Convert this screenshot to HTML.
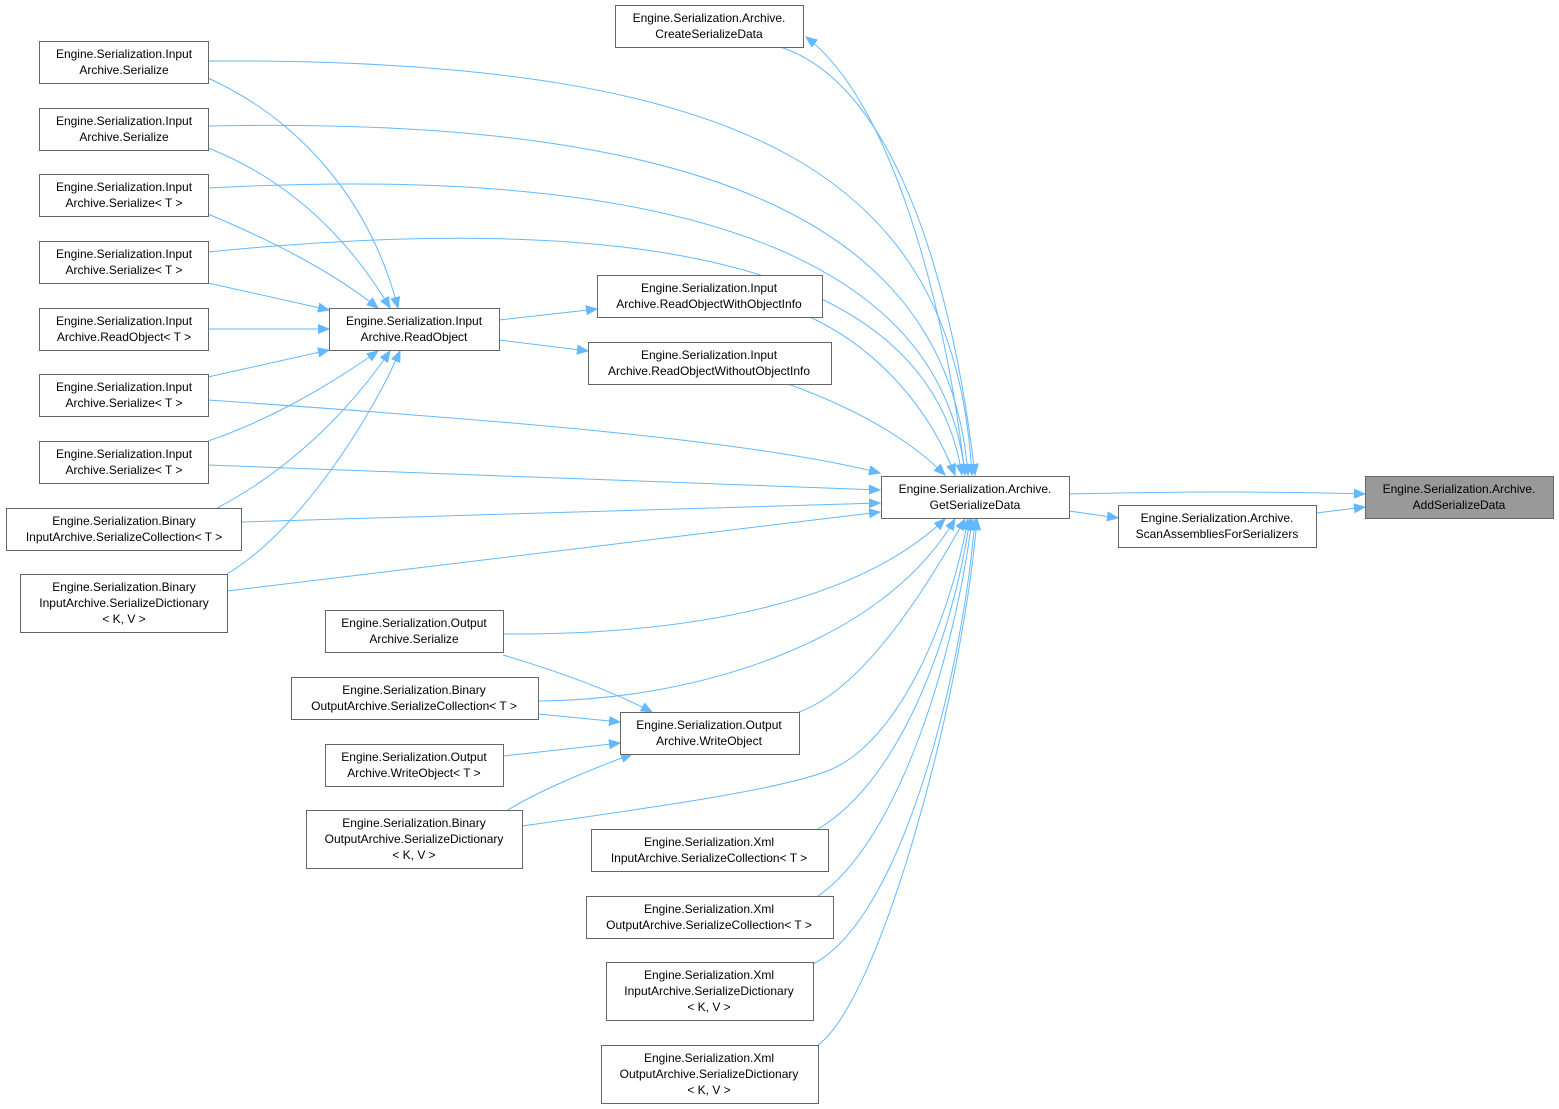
<!DOCTYPE html>
<html><head><meta charset="utf-8"><style>
html,body{margin:0;padding:0;background:#fff;}
svg{display:block;}
text{font-family:"Liberation Sans",sans-serif;font-size:12px;fill:#000;text-anchor:middle;}
.n{fill:#fff;stroke:#666;stroke-width:1;}
.e{fill:none;stroke:#63b8ff;stroke-width:1;marker-end:url(#a);}
</style></head><body>
<svg width="1559" height="1109" viewBox="0 0 1559 1109" xmlns="http://www.w3.org/2000/svg">
<defs><marker id="a" markerUnits="userSpaceOnUse" markerWidth="12" markerHeight="10" refX="11" refY="5" orient="auto"><path d="M0,0.5 L11,5 L0,9.5 z" fill="#63b8ff" stroke="#63b8ff"/></marker></defs>

<!-- edges to GetSerializeData -->
<path class="e" d="M208,61 C760,58 955,180 972,475"/>
<path class="e" d="M208,126 C740,115 950,240 968,475"/>
<path class="e" d="M208,188 C730,160 945,280 965,475"/>
<path class="e" d="M208,252 C730,200 935,300 962,475"/>
<path class="e" d="M208,400 C500,420 750,440 880,473"/>
<path class="e" d="M208,465 L880,490"/>
<path class="e" d="M241,522 L880,503"/>
<path class="e" d="M227,591 L880,512"/>
<path class="e" d="M810,317 C880,350 930,410 955,475"/>
<path class="e" d="M788,384 C860,410 910,440 945,475"/>
<path class="e" d="M503,634 C700,635 860,600 945,519"/>
<path class="e" d="M538,701 C700,700 885,640 955,519"/>
<path class="e" d="M799,712 C860,690 920,600 965,519"/>
<path class="e" d="M522,826 C650,808 780,790 830,770 C900,740 950,620 968,519"/>
<path class="e" d="M818,829 C900,780 952,640 970,519"/>
<path class="e" d="M818,896 C900,840 956,650 972,519"/>
<path class="e" d="M813,964 C900,920 962,680 975,519"/>
<path class="e" d="M818,1045 C880,1000 962,700 977,519"/>
<path class="e" d="M780,47 C900,85 955,300 975,475"/>
<path class="e" d="M965,475 C945,300 890,100 806,37"/>
<!-- edges to ReadObject -->
<path class="e" d="M208,78 C300,120 370,200 398,308"/>
<path class="e" d="M208,148 C290,180 350,240 390,308"/>
<path class="e" d="M208,214 C270,240 330,270 378,308"/>
<path class="e" d="M208,283 L329,310"/>
<path class="e" d="M208,329 L329,329"/>
<path class="e" d="M208,377 L329,350"/>
<path class="e" d="M208,441 C270,420 330,385 378,351"/>
<path class="e" d="M217,508 C290,470 350,410 390,351"/>
<path class="e" d="M227,574 C300,530 370,420 400,351"/>
<path class="e" d="M499,320 L597,309"/>
<path class="e" d="M499,340 L588,351"/>
<!-- edges to WriteObject -->
<path class="e" d="M503,655 C560,672 610,690 652,712"/>
<path class="e" d="M538,714 L620,722"/>
<path class="e" d="M503,756 L620,743"/>
<path class="e" d="M508,810 C540,790 590,770 632,754"/>
<!-- right side -->
<path class="e" d="M1069,511 L1118,518"/>
<path class="e" d="M1316,513 L1365,507"/>
<path class="e" d="M1069,494 C1200,491 1300,492 1365,494"/>

<!-- nodes -->
<rect x="1365.5" y="476.5" width="188" height="42" fill="#999" stroke="#666"/>
<text x="1459" y="493">Engine.Serialization.Archive.</text><text x="1459" y="509">AddSerializeData</text>

<rect class="n" x="881.5" y="476.5" width="188" height="42"/>
<text x="975" y="493">Engine.Serialization.Archive.</text><text x="975" y="509">GetSerializeData</text>

<rect class="n" x="1118.5" y="505.5" width="198" height="42"/>
<text x="1217" y="522">Engine.Serialization.Archive.</text><text x="1217" y="538">ScanAssembliesForSerializers</text>

<rect class="n" x="615.5" y="5.5" width="188" height="42"/>
<text x="709" y="22">Engine.Serialization.Archive.</text><text x="709" y="38">CreateSerializeData</text>

<rect class="n" x="39.5" y="41.5" width="169" height="42"/>
<text x="124" y="58">Engine.Serialization.Input</text><text x="124" y="74">Archive.Serialize</text>
<rect class="n" x="39.5" y="108.5" width="169" height="42"/>
<text x="124" y="125">Engine.Serialization.Input</text><text x="124" y="141">Archive.Serialize</text>
<rect class="n" x="39.5" y="174.5" width="169" height="42"/>
<text x="124" y="191">Engine.Serialization.Input</text><text x="124" y="207">Archive.Serialize&lt; T &gt;</text>
<rect class="n" x="39.5" y="241.5" width="169" height="42"/>
<text x="124" y="258">Engine.Serialization.Input</text><text x="124" y="274">Archive.Serialize&lt; T &gt;</text>
<rect class="n" x="39.5" y="308.5" width="169" height="42"/>
<text x="124" y="325">Engine.Serialization.Input</text><text x="124" y="341">Archive.ReadObject&lt; T &gt;</text>
<rect class="n" x="39.5" y="374.5" width="169" height="42"/>
<text x="124" y="391">Engine.Serialization.Input</text><text x="124" y="407">Archive.Serialize&lt; T &gt;</text>
<rect class="n" x="39.5" y="441.5" width="169" height="42"/>
<text x="124" y="458">Engine.Serialization.Input</text><text x="124" y="474">Archive.Serialize&lt; T &gt;</text>
<rect class="n" x="6.5" y="508.5" width="235" height="42"/>
<text x="124" y="525">Engine.Serialization.Binary</text><text x="124" y="541">InputArchive.SerializeCollection&lt; T &gt;</text>
<rect class="n" x="20.5" y="574.5" width="207" height="58"/>
<text x="124" y="591">Engine.Serialization.Binary</text><text x="124" y="607">InputArchive.SerializeDictionary</text><text x="124" y="623">&lt; K, V &gt;</text>

<rect class="n" x="329.5" y="308.5" width="170" height="42"/>
<text x="414" y="325">Engine.Serialization.Input</text><text x="414" y="341">Archive.ReadObject</text>

<rect class="n" x="597.5" y="275.5" width="225" height="42"/>
<text x="709" y="292">Engine.Serialization.Input</text><text x="709" y="308">Archive.ReadObjectWithObjectInfo</text>
<rect class="n" x="588.5" y="342.5" width="243" height="42"/>
<text x="709" y="359">Engine.Serialization.Input</text><text x="709" y="375">Archive.ReadObjectWithoutObjectInfo</text>

<rect class="n" x="325.5" y="610.5" width="178" height="42"/>
<text x="414" y="627">Engine.Serialization.Output</text><text x="414" y="643">Archive.Serialize</text>
<rect class="n" x="291.5" y="677.5" width="247" height="42"/>
<text x="414" y="694">Engine.Serialization.Binary</text><text x="414" y="710">OutputArchive.SerializeCollection&lt; T &gt;</text>
<rect class="n" x="620.5" y="712.5" width="179" height="42"/>
<text x="709" y="729">Engine.Serialization.Output</text><text x="709" y="745">Archive.WriteObject</text>
<rect class="n" x="325.5" y="744.5" width="178" height="42"/>
<text x="414" y="761">Engine.Serialization.Output</text><text x="414" y="777">Archive.WriteObject&lt; T &gt;</text>
<rect class="n" x="306.5" y="810.5" width="216" height="58"/>
<text x="414" y="827">Engine.Serialization.Binary</text><text x="414" y="843">OutputArchive.SerializeDictionary</text><text x="414" y="859">&lt; K, V &gt;</text>

<rect class="n" x="591.5" y="829.5" width="237" height="42"/>
<text x="709" y="846">Engine.Serialization.Xml</text><text x="709" y="862">InputArchive.SerializeCollection&lt; T &gt;</text>
<rect class="n" x="586.5" y="896.5" width="247" height="42"/>
<text x="709" y="913">Engine.Serialization.Xml</text><text x="709" y="929">OutputArchive.SerializeCollection&lt; T &gt;</text>
<rect class="n" x="606.5" y="962.5" width="207" height="58"/>
<text x="709" y="979">Engine.Serialization.Xml</text><text x="709" y="995">InputArchive.SerializeDictionary</text><text x="709" y="1011">&lt; K, V &gt;</text>
<rect class="n" x="601.5" y="1045.5" width="217" height="58"/>
<text x="709" y="1062">Engine.Serialization.Xml</text><text x="709" y="1078">OutputArchive.SerializeDictionary</text><text x="709" y="1094">&lt; K, V &gt;</text>
</svg>
</body></html>
